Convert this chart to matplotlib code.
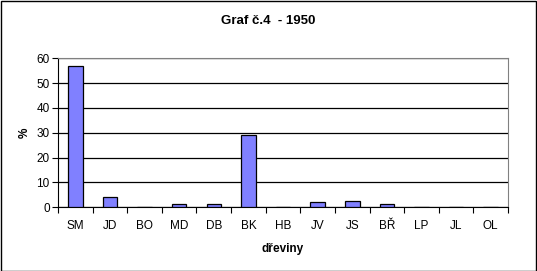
import numpy as np
import matplotlib.pyplot as plt
from matplotlib.patches import Rectangle

plt.rcParams['font.family'] = ['Liberation Sans', 'DejaVu Sans']

dreviny = ['SM', 'JD', 'BO', 'MD', 'DB', 'BK', 'HB', 'JV', 'JS', 'BŘ', 'LP', 'JL', 'OL']
procenta = [57.1, 4.0, 0.3, 1.2, 1.2, 29.0, 0.3, 2.1, 2.4, 1.2, 0.0, 0.0, 0.3]

fig = plt.figure(figsize=(5.37, 2.71), dpi=100)
ax = fig.add_axes([58 / 537, 1 - 207.3 / 271, 450 / 537, 149 / 271])

x = np.arange(len(dreviny))
ax.bar(x, procenta, width=0.42, color='#8080FF', edgecolor='black', linewidth=0.9, zorder=3)

ax.set_xlim(-0.5, len(dreviny) - 0.5)
ax.set_ylim(0, 60)
ax.set_yticks(np.arange(0, 61, 10))
ax.set_xticks(x)
ax.set_xticklabels(dreviny)
ax.set_xticks(np.arange(-0.5, len(dreviny), 1), minor=True)
ax.tick_params(axis='x', which='major', length=0, pad=9, labelsize=8.5)
ax.tick_params(axis='x', which='minor', length=4, width=0.8, direction='out')
ax.tick_params(axis='y', length=4, width=0.8, labelsize=8.5, pad=2)

ax.yaxis.grid(True, color='black', linewidth=0.9, zorder=0)
ax.set_axisbelow(True)
for s in ['top', 'right']:
    ax.spines[s].set_color('#808080')
for s in ['left', 'bottom']:
    ax.spines[s].set_color('black')

ax.set_xlabel('dřeviny', fontsize=8.5, fontweight='bold', labelpad=8)
ax.set_ylabel('%', fontsize=8.5, fontweight='bold', labelpad=4)
fig.text(0.5, 1 - 21 / 271, 'Graf č.4  - 1950', ha='center', va='center', fontsize=9.5, fontweight='bold')

fig.patches.append(Rectangle((0.5 / 537, 0.5 / 271), 535.5 / 537, 269.5 / 271, transform=fig.transFigure,
                             fill=False, edgecolor='black', linewidth=1))

fig.savefig('out.png', dpi=100)
